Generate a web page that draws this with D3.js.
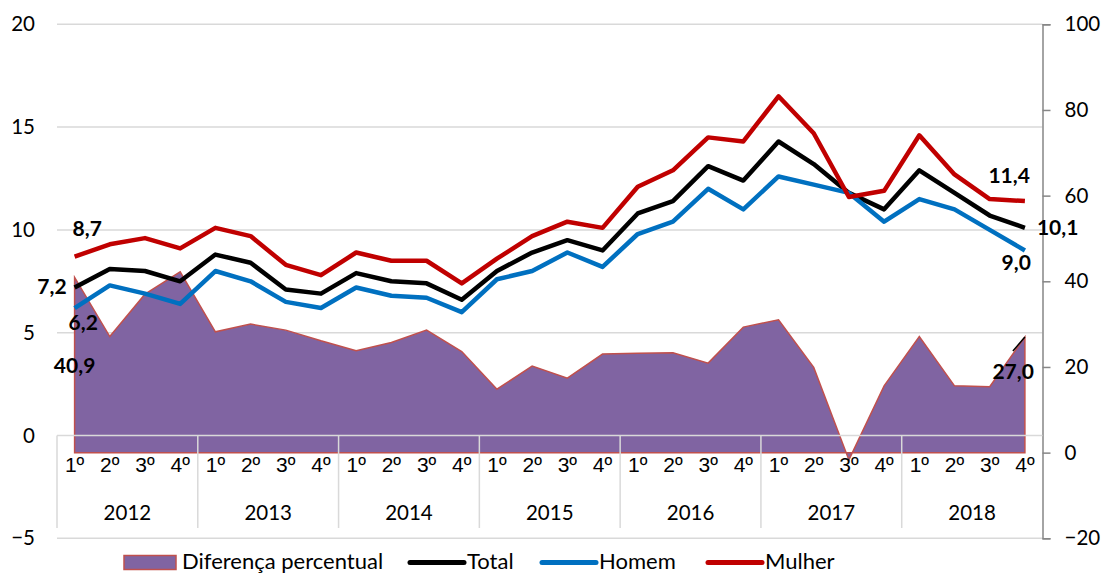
<!DOCTYPE html>
<html>
<head>
<meta charset="utf-8">
<script src="https://cdn.jsdelivr.net/npm/d3@7"></script>
<style>
  body { margin: 0; background: #fff; }
  svg { display: block; font-family: Lato, "Open Sans", sans-serif; }
</style>
</head>
<body>
<div id="chart"></div>
<script>
"use strict";

// data
const years = ["2012", "2013", "2014", "2015", "2016", "2017", "2018"];
const quarters = ["1º", "2º", "3º", "4º"];

const total = [7.2, 8.1, 8.0, 7.5, 8.8, 8.4, 7.1, 6.9, 7.9, 7.5, 7.4, 6.6,
    8.0, 8.9, 9.5, 9.0, 10.8, 11.4, 13.1, 12.4, 14.3, 13.2, 11.8, 11.0,
    12.9, 11.8, 10.7, 10.1];
const homem = [6.2, 7.3, 6.9, 6.4, 8.0, 7.5, 6.5, 6.2, 7.2, 6.8, 6.7, 6.0,
    7.6, 8.0, 8.9, 8.2, 9.8, 10.4, 12.0, 11.0, 12.6, 12.2, 11.8, 10.4,
    11.5, 11.0, 10.0, 9.0];
const mulher = [8.7, 9.3, 9.6, 9.1, 10.1, 9.7, 8.3, 7.8, 8.9, 8.5, 8.5, 7.4,
    8.6, 9.7, 10.4, 10.1, 12.1, 12.9, 14.5, 14.3, 16.5, 14.7, 11.6, 11.9,
    14.6, 12.7, 11.5, 11.4];
const diferenca = [40.9, 27.1, 37.0, 42.2, 28.2, 30.0, 28.6, 26.1, 23.8, 25.7, 28.6, 23.6,
    14.8, 20.2, 17.4, 23.0, 23.2, 23.3, 20.9, 29.3, 31.0, 19.9, -1.7, 15.6,
    27.1, 15.6, 15.4, 27.0];

const leftTicks = [-5, 0, 5, 10, 15, 20];
const rightTicks = [-20, 0, 20, 40, 60, 80, 100];

const width = 1104, height = 574;
const plotLeft = 57, plotRight = 1042.5, plotTop = 24.3, plotBottom = 538.3;

const svg = d3.select("#chart").append("svg")
    .attr("width", width)
    .attr("height", height);

const idx = d3.range(years.length * quarters.length);
const x = d3.scaleBand().domain(idx).range([plotLeft, plotRight]);
const cx = i => x(i) + x.bandwidth() / 2;
const yL = d3.scaleLinear().domain([-5, 20]).range([plotBottom, plotTop]);
const yR = d3.scaleLinear().domain([-20, 100]).range([plotBottom, plotTop]);

const grey = "#d9d9d9";

// gridlines
svg.append("g").selectAll("line")
    .data(leftTicks.filter(t => t !== 0))
    .enter().append("line")
        .attr("x1", plotLeft).attr("x2", plotRight)
        .attr("y1", d => yL(d)).attr("y2", d => yL(d))
        .attr("stroke", grey).attr("stroke-width", 1.5);

// left axis labels
const axL = svg.append("g")
    .attr("transform", `translate(${plotLeft},0)`)
    .call(d3.axisLeft(yL).tickValues(leftTicks).tickSize(0).tickPadding(22));
axL.select(".domain").remove();
axL.selectAll("text").attr("font-size", 20.5).attr("font-family", "Lato").attr("fill", "#000");

// right axis
const axR = svg.append("g")
    .attr("transform", `translate(${plotRight},0)`)
    .call(d3.axisRight(yR).tickValues(rightTicks).tickSizeInner(8).tickSizeOuter(8).tickPadding(14));
axR.select(".domain").attr("stroke", "#868686").attr("stroke-width", 1.5);
axR.selectAll(".tick line").attr("stroke", "#868686").attr("stroke-width", 1.5);
axR.selectAll("text").attr("font-size", 20.5).attr("font-family", "Lato").attr("fill", "#000");

// area: Diferença percentual (right axis)
const area = d3.area()
    .x((d, i) => cx(i))
    .y0(yR(0))
    .y1(d => yR(d));
svg.append("path")
    .datum(diferenca)
    .attr("d", d => area(d) + "Z")
    .attr("fill", "#8064a2")
    .attr("stroke", "#c0504d")
    .attr("stroke-width", 1.5);

// category axis box
svg.append("line")
    .attr("x1", plotLeft).attr("x2", plotRight)
    .attr("y1", yL(0)).attr("y2", yL(0))
    .attr("stroke", grey).attr("stroke-width", 1.5);
svg.append("g").selectAll("line")
    .data(d3.range(years.length))
    .enter().append("line")
        .attr("x1", d => x(d * 4))
        .attr("x2", d => x(d * 4))
        .attr("y1", yL(0)).attr("y2", 528)
        .attr("stroke", grey).attr("stroke-width", 1.5);

svg.append("g").selectAll("text")
    .data(idx)
    .enter().append("text")
        .attr("x", d => cx(d))
        .attr("y", 472)
        .attr("text-anchor", "middle")
        .attr("font-family", "'Liberation Sans', Arial, sans-serif")
        .attr("font-size", 21)
        .text(d => quarters[d % 4]);

svg.append("g").selectAll("text")
    .data(years)
    .enter().append("text")
        .attr("x", (d, i) => x(i * 4) + x.bandwidth() * 2)
        .attr("y", 520)
        .attr("text-anchor", "middle")
        .attr("font-size", 20.5)
        .text(d => d);

// lines
const line = d3.line().x((d, i) => cx(i)).y(d => yL(d));
const series = [
    {values: total, color: "#000000"},
    {values: homem, color: "#0070c0"},
    {values: mulher, color: "#c00000"}
];
svg.append("g").selectAll("path")
    .data(series)
    .enter().append("path")
        .attr("d", d => line(d.values))
        .attr("fill", "none")
        .attr("stroke", d => d.color)
        .attr("stroke-width", 4.5)
        .attr("stroke-linejoin", "round");

// data labels
const last = idx.length - 1;
const fmt = v => v.toFixed(1).replace(".", ",");
const labels = [
    {text: fmt(mulher[0]), x: cx(0) - 2, y: yL(mulher[0]) - 21, anchor: "start"},
    {text: fmt(total[0]), x: cx(0) - 8, y: yL(total[0]) + 7, anchor: "end"},
    {text: fmt(homem[0]), x: cx(0) - 6, y: yL(homem[0]) + 22, anchor: "start"},
    {text: fmt(diferenca[0]), x: cx(0), y: yR(diferenca[0]) + 96, anchor: "middle"},
    {text: fmt(mulher[last]), x: cx(last) + 5, y: yL(mulher[last]) - 18, anchor: "end"},
    {text: fmt(total[last]), x: cx(last) + 12, y: yL(total[last]) + 7, anchor: "start"},
    {text: fmt(homem[last]), x: cx(last) + 6, y: yL(homem[last]) + 20, anchor: "end"},
    {text: fmt(diferenca[last]), x: cx(last) + 9, y: yR(diferenca[last]) + 42, anchor: "end"}
];
svg.append("g").selectAll("text")
    .data(labels)
    .enter().append("text")
        .attr("x", d => d.x)
        .attr("y", d => d.y)
        .attr("text-anchor", d => d.anchor)
        .attr("font-size", 21)
        .attr("font-weight", "bold")
        .text(d => d.text);

// leader line for the last area label
svg.append("line")
    .attr("x1", cx(last) - 12).attr("y1", yR(diferenca[last]) + 14)
    .attr("x2", cx(last)).attr("y2", yR(diferenca[last]))
    .attr("stroke", "#000").attr("stroke-width", 1.5);

// legend
const legendY = 562.5;
const legend = svg.append("g");
legend.append("rect")
    .attr("x", 124).attr("y", 555.5).attr("width", 52).attr("height", 14)
    .attr("fill", "#8064a2").attr("stroke", "#c0504d").attr("stroke-width", 1.5);
legend.append("text")
    .attr("x", 182).attr("y", 568.5)
    .attr("font-size", 22)
    .text("Diferença percentual");

const legendLines = [
    {name: "Total", color: "#000000", x: 410},
    {name: "Homem", color: "#0070c0", x: 542},
    {name: "Mulher", color: "#c00000", x: 708}
];
const li = legend.selectAll("g.item")
    .data(legendLines)
    .enter().append("g")
        .attr("class", "item");
li.append("line")
    .attr("x1", d => d.x).attr("x2", d => d.x + 54)
    .attr("y1", legendY).attr("y2", legendY)
    .attr("stroke", d => d.color)
    .attr("stroke-width", 5)
    .attr("stroke-linecap", "round");
li.append("text")
    .attr("x", d => d.x + 57)
    .attr("y", 568.5)
    .attr("font-size", 22)
    .text(d => d.name);
</script>
</body>
</html>
